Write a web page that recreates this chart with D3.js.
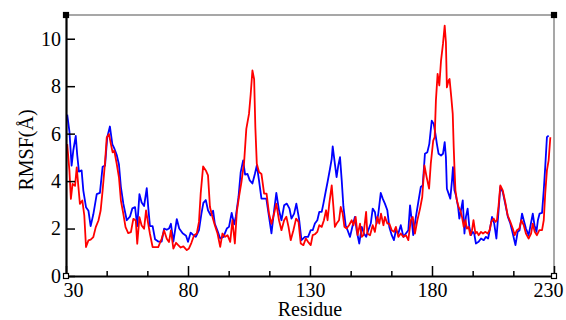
<!DOCTYPE html>
<html>
<head>
<meta charset="utf-8">
<script src="https://cdn.jsdelivr.net/npm/d3@7"></script>
<style>
  body { margin: 0; background: #fff; }
  svg { display: block; }
</style>
</head>
<body>
<svg id="chart" width="566" height="320"></svg>
<script>
var serif = "'Liberation Serif', 'DejaVu Serif', serif";

// x ticks and y ticks
var xTicks = [30, 80, 130, 180, 230];
var yTicks = [0, 2, 4, 6, 8, 10];

// blue series (residue, RMSF)
var blueResidue = [30.5, 31.4, 32.3, 33.0, 34.0, 34.6, 35.3, 36.4, 37.1, 38.2, 39.2, 40.1, 41.2, 42.6, 43.9, 45.0, 46.0, 46.9, 48.0, 49.0,
    49.7, 50.8, 51.7, 52.5, 53.5, 54.9, 56.2, 57.2, 58.3, 59.2, 60.1, 61.0, 62.0, 63.1, 63.7, 64.4, 65.5, 66.5, 67.8, 69.2,
    70.2, 71.3, 72.2, 73.0, 74.0, 75.4, 76.4, 77.8, 79.2, 80.0, 81.1, 82.2, 83.2, 84.5, 85.5, 86.3, 87.3, 88.2, 89.3, 90.3,
    91.0, 92.1, 93.2, 94.5, 95.9, 96.8, 97.9, 98.9, 99.6, 100.7, 101.6, 102.6, 103.4, 104.4, 105.3, 106.4, 107.4, 108.2, 109.1, 110.1,
    111.2, 112.1, 113.2, 114.2, 115.3, 116.2, 117.3, 118.3, 119.4, 120.5, 121.6, 122.4, 123.5, 124.4, 125.5, 126.5, 127.9, 129.2, 130.3, 131.1,
    132.0, 133.0, 133.8, 134.8, 135.5, 136.4, 137.2, 138.2, 138.9, 139.3, 140.2, 140.9, 141.6, 142.3, 143.0, 143.7, 144.6, 145.4, 146.4, 147.5,
    148.4, 149.1, 150.2, 151.2, 152.1, 153.0, 153.9, 154.9, 155.7, 156.6, 157.3, 158.0, 159.0, 159.8, 160.7, 161.7, 162.5, 163.5, 164.4, 165.2,
    166.2, 167.2, 168.3, 169.3, 170.3, 171.0, 171.7, 172.3, 173.4, 174.4, 175.4, 176.2, 177.1, 178.1, 178.9, 179.9, 180.7, 181.4, 182.0, 182.7,
    183.7, 184.5, 185.2, 185.7, 186.1, 186.8, 187.5, 188.2, 188.6, 189.2, 189.8, 190.7, 191.2, 192.0, 192.6, 193.3, 193.9, 194.6, 195.3, 196.0,
    196.7, 197.3, 198.0, 199.1, 200.1, 201.2, 202.1, 203.0, 203.9, 204.6, 205.5, 206.4, 207.3, 208.0, 209.0, 210.0, 211.1, 212.1, 213.1, 214.2,
    215.1, 215.9, 216.9, 217.6, 218.5, 219.6, 220.4, 221.3, 222.0, 222.8, 223.4, 224.1, 225.1, 225.8, 226.4, 227.1, 227.8];
var blueRmsf = [6.8, 6.1, 4.65, 5.3, 5.9, 5.1, 4.4, 4.45, 3.6, 2.9, 2.75, 2.1, 2.6, 3.45, 3.5, 4.6, 4.65, 5.85, 6.3, 5.55,
    5.4, 5.1, 4.7, 3.75, 3.05, 2.35, 2.5, 2.85, 2.9, 2.1, 3.45, 3.1, 2.95, 3.7, 2.9, 2.1, 2.1, 1.55, 1.45, 1.45,
    2.0, 1.95, 2.0, 2.2, 1.45, 2.4, 2.0, 1.8, 1.7, 1.44, 1.83, 1.72, 1.65, 1.93, 2.63, 3.08, 3.2, 2.77, 2.56, 2.75,
    2.2, 1.9, 1.58, 1.65, 2.0, 2.07, 2.66, 2.18, 2.5, 3.33, 4.38, 4.87, 4.27, 4.3, 4.03, 3.9, 4.3, 4.66, 4.03, 3.26,
    3.26, 3.26, 2.5, 1.8, 2.77, 3.5, 2.77, 2.35, 2.98, 3.05, 2.84, 2.42, 2.63, 3.05, 2.42, 1.51, 1.65, 1.65, 1.93, 1.93,
    2.21, 2.35, 2.7, 2.7, 3.05, 3.54, 3.96, 4.52, 4.94, 5.46, 4.73, 4.17, 4.66, 5.01, 4.03, 2.91, 2.14, 1.93, 1.65, 2.14,
    2.49, 1.93, 1.37, 2.07, 1.79, 1.65, 1.93, 2.21, 2.84, 2.7, 2.21, 2.63, 3.5, 3.26, 3.05, 2.77, 2.07, 1.72, 1.51, 1.93,
    1.79, 2.14, 1.65, 1.79, 1.93, 2.98, 2.35, 1.72, 2.49, 3.12, 3.75, 3.82, 5.15, 5.22, 5.57, 6.55, 6.41, 5.99, 5.57, 5.15,
    5.08, 5.15, 5.64, 5.01, 3.68, 3.47, 3.26, 4.03, 4.59, 3.61, 3.4, 2.91, 2.42, 2.84, 3.19, 1.79, 2.49, 2.84, 2.07, 1.72,
    1.86, 1.79, 1.37, 1.44, 1.58, 1.51, 1.65, 1.58, 2.07, 2.49, 2.21, 1.58, 2.77, 3.75, 3.54, 3.05, 2.49, 2.21, 1.79, 1.3,
    1.86, 1.93, 2.63, 2.35, 2.0, 1.72, 2.14, 2.63, 2.14, 1.86, 2.35, 2.63, 2.66, 3.61, 4.59, 5.85, 5.92];

// red series (residue, RMSF)
var redResidue = [30.5, 31.4, 32.0, 32.7, 33.7, 34.4, 35.1, 35.7, 36.7, 37.5, 38.2, 39.2, 40.1, 41.2, 42.2, 43.3, 44.2, 45.0, 46.0, 46.7,
    47.6, 48.4, 49.1, 49.8, 50.8, 51.7, 52.5, 53.5, 54.4, 55.5, 56.6, 57.6, 58.6, 59.2, 60.1, 61.0, 62.0, 62.8, 63.7, 64.4,
    65.5, 66.5, 67.8, 69.2, 70.2, 71.3, 72.2, 73.0, 74.0, 75.1, 76.0, 77.0, 78.1, 79.5, 80.4, 81.4, 82.5, 83.6, 84.5, 85.2,
    86.2, 87.3, 88.2, 89.0, 90.0, 91.0, 92.1, 93.2, 94.1, 95.2, 96.2, 97.3, 98.2, 99.2, 100.0, 100.9, 101.9, 103.0, 103.9, 105.0,
    105.7, 106.4, 107.1, 107.6, 108.2, 109.1, 110.1, 111.2, 112.2, 113.2, 114.2, 115.3, 116.2, 117.3, 118.3, 119.4, 120.3, 121.2, 122.1, 123.2,
    124.3, 125.3, 126.2, 127.3, 128.3, 129.2, 130.3, 131.1, 132.0, 133.0, 133.8, 134.8, 135.7, 136.6, 137.2, 137.9, 138.9, 139.6, 140.2, 140.9,
    141.9, 142.6, 143.4, 144.1, 145.0, 146.0, 147.1, 147.8, 148.7, 149.5, 150.5, 151.2, 151.9, 153.0, 153.5, 154.6, 155.7, 156.6, 157.6, 158.4,
    159.1, 160.1, 160.7, 161.7, 162.5, 163.5, 164.4, 165.2, 166.2, 167.2, 168.3, 169.3, 170.3, 171.3, 172.1, 173.0, 174.0, 175.1, 176.0, 176.9,
    177.8, 178.8, 179.5, 180.5, 181.1, 181.6, 182.3, 183.0, 183.7, 184.5, 185.2, 185.7, 186.1, 186.8, 187.2, 187.9, 188.5, 188.9, 189.2, 189.6,
    190.2, 190.9, 191.6, 192.3, 193.0, 193.7, 194.3, 195.0, 195.7, 196.4, 197.0, 197.8, 198.4, 199.1, 200.1, 200.9, 201.9, 202.8, 203.6, 204.3,
    205.3, 206.0, 206.6, 207.3, 208.0, 209.0, 210.0, 211.0, 212.1, 213.1, 213.9, 214.8, 215.8, 216.6, 217.6, 218.5, 219.6, 220.6, 221.3, 222.1,
    223.0, 224.0, 225.1, 225.8, 226.4, 227.1, 227.8, 228.5];
var redRmsf = [5.56, 4.44, 3.25, 3.88, 3.8, 4.58, 3.74, 3.04, 3.18, 2.55, 1.22, 1.5, 1.53, 1.64, 2.06, 2.34, 2.76, 3.6, 4.79, 5.84,
    5.98, 5.56, 5.21, 5.28, 4.72, 4.16, 3.18, 2.62, 2.06, 1.81, 1.85, 2.41, 2.34, 1.36, 2.48, 2.13, 1.99, 2.76, 2.2, 1.78,
    1.22, 1.22, 1.22, 1.57, 1.92, 1.57, 1.43, 1.92, 1.15, 1.4, 1.3, 1.2, 1.25, 1.09, 1.16, 1.4, 1.72, 1.79, 2.28, 3.47,
    4.62, 4.45, 4.24, 2.91, 2.5, 2.14, 1.79, 1.23, 1.79, 1.65, 1.72, 1.44, 2.35, 1.37, 2.7, 3.33, 3.96, 4.8, 6.2, 6.83,
    7.67, 8.66, 8.3, 6.27, 4.73, 4.38, 4.3, 3.47, 3.47, 2.63, 2.2, 2.63, 3.05, 2.35, 1.93, 2.35, 2.5, 2.07, 1.51, 1.93,
    2.42, 2.28, 1.37, 1.3, 1.58, 1.44, 1.3, 1.72, 1.76, 1.86, 2.14, 2.07, 2.35, 2.77, 2.35, 3.05, 3.82, 2.91, 2.07, 2.21,
    2.35, 2.91, 2.63, 2.07, 2.0, 2.14, 2.35, 2.14, 2.49, 1.72, 2.21, 1.65, 1.72, 2.7, 1.79, 1.72, 2.14, 1.86, 2.49, 2.21,
    2.63, 2.14, 2.49, 2.21, 2.21, 1.93, 1.86, 2.07, 1.65, 1.79, 1.65, 1.72, 1.51, 2.35, 2.49, 1.79, 2.35, 2.84, 3.33, 4.66,
    4.17, 3.68, 4.73, 5.71, 5.85, 7.39, 8.52, 8.03, 9.08, 9.78, 10.55, 9.85, 7.95, 8.24, 8.3, 7.54, 6.83, 5.43, 4.59, 3.61,
    3.19, 2.91, 2.77, 2.49, 2.07, 2.35, 2.0, 2.07, 1.72, 1.93, 2.35, 1.79, 1.86, 1.72, 1.86, 1.79, 1.86, 1.79, 1.93, 2.28,
    2.42, 2.28, 2.35, 2.98, 3.82, 3.61, 3.12, 2.56, 2.28, 2.0, 1.72, 1.93, 2.0, 2.35, 2.14, 1.79, 1.58, 1.79, 2.21, 1.86,
    1.72, 1.93, 1.93, 2.35, 3.47, 4.45, 4.87, 5.85];

var svg = d3.select("#chart");
var margin = {top: 15, right: 12, bottom: 44, left: 66};
var width = +svg.attr("width");
var height = +svg.attr("height");
var x0 = margin.left, x1 = width - margin.right;
var y0 = height - margin.bottom, y1 = margin.top;

var xScale = d3.scaleLinear().domain([30, 230]).range([x0, x1]);
var yScale = d3.scaleLinear().domain([0, 11]).range([y0, y1]);

// frame: top and right in grey
svg.append("line")
    .attr("x1", x0).attr("x2", x1).attr("y1", y1).attr("y2", y1)
    .attr("stroke", "#8a8a8a").attr("stroke-width", 1.5);
svg.append("line")
    .attr("x1", x1).attr("x2", x1).attr("y1", y1).attr("y2", y0)
    .attr("stroke", "#8a8a8a").attr("stroke-width", 1.5);

// lines
var line = d3.line()
    .x(d => xScale(d[0]))
    .y(d => yScale(d[1]));

var blue = d3.zip(blueResidue, blueRmsf);
var red = d3.zip(redResidue, redRmsf);

svg.append("path")
    .datum(blue)
    .attr("fill", "none")
    .attr("stroke", "#0000ff")
    .attr("stroke-width", 1.8)
    .attr("stroke-linejoin", "round")
    .attr("d", line);

svg.append("path")
    .datum(red)
    .attr("fill", "none")
    .attr("stroke", "#ff0000")
    .attr("stroke-width", 1.8)
    .attr("stroke-linejoin", "round")
    .attr("d", line);

// minor x ticks (two between each labelled tick)
var minorTicks = d3.range(30, 231, 50 / 3).filter((d, i) => i % 3 !== 0);
svg.append("g")
    .attr("transform", "translate(0," + y0 + ")")
    .call(d3.axisBottom(xScale).tickValues(minorTicks).tickSize(-5).tickFormat(""))
    .call(g => g.select(".domain").remove())
    .selectAll("line").attr("stroke-width", 1.5);

// x axis
var xAxis = svg.append("g")
    .attr("transform", "translate(0," + y0 + ")")
    .call(d3.axisBottom(xScale).tickValues(xTicks).tickSizeInner(-10).tickSizeOuter(0).tickPadding(7))
    .attr("font-family", serif)
    .attr("font-size", 20);
xAxis.select(".domain").attr("stroke-width", 2.2);
xAxis.selectAll(".tick line").attr("stroke-width", 1.5);
xAxis.selectAll("text")
    .attr("dx", d => d === 30 ? 7 : (d === 230 ? -6 : 0));

// y axis
var yAxis = svg.append("g")
    .attr("transform", "translate(" + x0 + ",0)")
    .call(d3.axisLeft(yScale).tickValues(yTicks).tickSizeInner(-9).tickSizeOuter(0).tickPadding(5))
    .attr("font-family", serif)
    .attr("font-size", 20);
yAxis.select(".domain").attr("stroke-width", 2.2);
yAxis.selectAll(".tick line").attr("stroke-width", 1.5);

// corner markers
[[x0, y1, true], [x1, y1, true], [x0, y0, false], [x1, y0, false]].forEach(function(c) {
    svg.append("rect")
        .attr("x", c[0] - 2.5).attr("y", c[1] - 2.5)
        .attr("width", 5).attr("height", 5)
        .attr("fill", c[2] ? "#000" : "#fff")
        .attr("stroke", "#000").attr("stroke-width", 1.2);
});

// axis titles
svg.append("text")
    .attr("x", (x0 + x1) / 2)
    .attr("y", 315.5)
    .attr("text-anchor", "middle")
    .attr("font-family", serif)
    .attr("font-size", 20)
    .text("Residue");

svg.append("text")
    .attr("transform", "translate(33," + 150 + ") rotate(-90)")
    .attr("text-anchor", "middle")
    .attr("font-family", serif)
    .attr("font-size", 20)
    .text("RMSF(Å)");
</script>
</body>
</html>
